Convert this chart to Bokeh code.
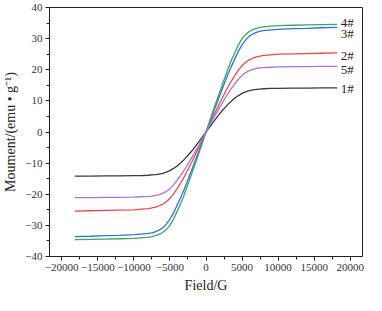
from bokeh.plotting import figure
from bokeh.models import Range1d, FixedTicker, ColumnDataSource
from bokeh.core.properties import value
from bokeh.embed import file_html
from bokeh.resources import INLINE

# Field (G)
field = [-18200, -16000, -14000, -12000, -10000, -9000, -8000, -7500, -7000, -6500,
         -6000, -5500, -5000, -4500, -4000, -3500, -3000, -2000, -1000, 0,
         1000, 2000, 3000, 3500, 4000, 4500, 5000, 5500, 6000, 6500,
         7000, 7500, 8000, 9000, 10000, 12000, 14000, 16000, 18200]

m1 = [-14.2, -14.2, -14.1, -14.1, -14.0, -14.0, -13.9, -13.8, -13.7, -13.5,
      -13.3, -12.9, -12.4, -11.7, -10.9, -9.9, -8.8, -6.2, -3.2, 0.0,
      3.2, 6.2, 8.8, 9.9, 10.9, 11.7, 12.4, 12.9, 13.3, 13.5,
      13.7, 13.8, 13.9, 14.0, 14.0, 14.1, 14.1, 14.2, 14.2]
m2 = [-25.4, -25.3, -25.2, -25.1, -25.0, -24.8, -24.6, -24.4, -24.1, -23.7,
      -23.2, -22.4, -21.3, -19.9, -18.2, -16.3, -14.3, -9.8, -5.0, 0.0,
      5.0, 9.8, 14.3, 16.3, 18.2, 19.9, 21.3, 22.4, 23.2, 23.7,
      24.1, 24.4, 24.6, 24.8, 25.0, 25.1, 25.2, 25.3, 25.4]
m3 = [-33.6, -33.5, -33.3, -33.2, -33.0, -32.8, -32.6, -32.4, -32.0, -31.5,
      -30.8, -29.6, -28.0, -26.0, -23.5, -21.0, -18.3, -12.3, -6.2, 0.0,
      6.2, 12.3, 18.3, 21.0, 23.5, 26.0, 28.0, 29.6, 30.8, 31.5,
      32.0, 32.4, 32.6, 32.8, 33.0, 33.2, 33.3, 33.5, 33.6]
m4 = [-34.6, -34.5, -34.4, -34.3, -34.2, -34.0, -33.8, -33.6, -33.3, -32.9,
      -32.3, -31.3, -30.0, -28.0, -25.5, -23.0, -20.0, -13.5, -6.9, 0.0,
      6.9, 13.5, 20.0, 23.0, 25.5, 28.0, 30.0, 31.3, 32.3, 32.9,
      33.3, 33.6, 33.8, 34.0, 34.2, 34.3, 34.4, 34.5, 34.6]
m5 = [-21.1, -21.1, -21.0, -21.0, -20.9, -20.8, -20.7, -20.6, -20.4, -20.1,
      -19.7, -19.1, -18.2, -17.0, -15.5, -13.9, -12.2, -8.3, -4.3, 0.0,
      4.3, 8.3, 12.2, 13.9, 15.5, 17.0, 18.2, 19.1, 19.7, 20.1,
      20.4, 20.6, 20.7, 20.8, 20.9, 21.0, 21.0, 21.1, 21.1]

names = ["1#", "2#", "3#", "4#", "5#"]
series = [m1, m2, m3, m4, m5]
colors = ["#3a3a3a", "#f04848", "#2f72e0", "#3aa860", "#a874e4"]
label_dy = [-0.2, -0.8, -2.0, 0.7, -1.1]

x_ticks = [-20000, -15000, -10000, -5000, 0, 5000, 10000, 15000, 20000]
y_ticks = [-40, -30, -20, -10, 0, 10, 20, 30, 40]

SERIF = "Liberation Serif"

p = figure(width=366, height=295, output_backend="svg", toolbar_location=None,
           x_range=Range1d(-21700, 21700), y_range=Range1d(-40, 40),
           min_border_left=36, min_border_right=4, min_border_top=7, min_border_bottom=30)
p.grid.visible = False
p.background_fill_color = "white"
p.border_fill_color = "white"
p.outline_line_color = "#222222"
p.outline_line_width = 1

for s, c in zip(series, colors):
    p.line(field, s, line_color=c, line_width=1.3)

src = ColumnDataSource(dict(
    x=[field[-1] + 500] * len(names),
    y=[s[-1] + d for s, d in zip(series, label_dy)],
    t=names))
p.text(x="x", y="y", text="t", source=src, text_font=value(SERIF),
       text_font_size="13px", text_color="#222222",
       text_baseline="middle", text_align="left")

def minus(v):
    return str(v).replace("-", "\u2212")

p.xaxis.ticker = FixedTicker(ticks=x_ticks,
                             minor_ticks=[t + 2500 for t in x_ticks[:-1]] + [-22500, 22500][0:0])
p.yaxis.ticker = FixedTicker(ticks=y_ticks, minor_ticks=[t + 5 for t in y_ticks[:-1]])
p.xaxis.major_label_overrides = {t: minus(t) for t in x_ticks}
p.yaxis.major_label_overrides = {t: minus(t) for t in y_ticks}

for ax in (p.xaxis, p.yaxis):
    ax.axis_line_color = "#222222"
    ax.major_tick_line_color = "#222222"
    ax.minor_tick_line_color = "#222222"
    ax.major_tick_out = 4
    ax.major_tick_in = 0
    ax.minor_tick_out = 3
    ax.minor_tick_in = 0
    ax.major_label_text_font = SERIF
    ax.major_label_text_font_size = "11px"
    ax.major_label_text_color = "#333333"
    ax.axis_label_text_font = SERIF
    ax.axis_label_text_font_size = "14px"
    ax.axis_label_text_font_style = "normal"
    ax.axis_label_text_color = "#222222"
    ax.major_label_standoff = 3
    ax.axis_label_standoff = 4

p.xaxis.axis_label = "Field/G"
p.yaxis.axis_label = "Moument/(emu \u2022 g\u207b\u00b9)"

open("out.html", "w").write(file_html(p, INLINE))
